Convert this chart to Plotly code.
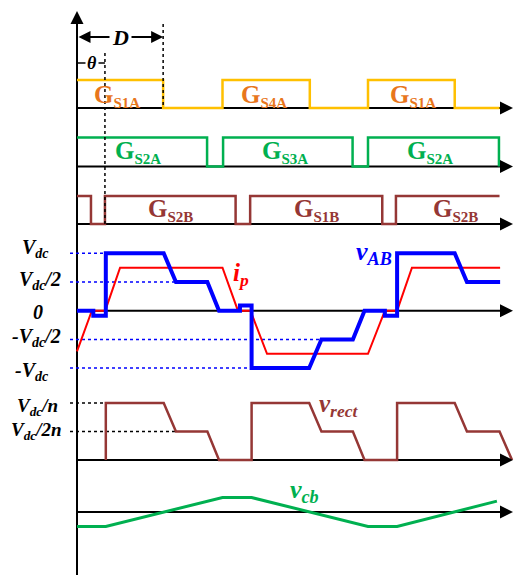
import plotly.graph_objects as go

# ---------------- data (time in switching periods T) ----------------
gs1a_t = [0, 0.296, 0.296, 0.5, 0.5, 0.8, 0.8, 1.0, 1.0, 1.298, 1.298, 1.452]
gs1a_v = [1, 1, 0, 0, 1, 1, 0, 0, 1, 1, 0, 0]

gs2a_t = [0, 0.447, 0.447, 0.502, 0.502, 0.947, 0.947, 1.0, 1.0, 1.45, 1.45]
gs2a_v = [1, 1, 0, 0, 1, 1, 0, 0, 1, 1, 0]

gs2b_t = [0, 0.048, 0.048, 0.096, 0.096, 0.545, 0.545, 0.595, 0.595, 1.049, 1.049, 1.096, 1.096, 1.452]
gs2b_v = [1, 1, 0, 0, 1, 1, 0, 0, 1, 1, 0, 0, 1, 1]

vab_t = [0, 0.056, 0.056, 0.099, 0.099, 0.298, 0.34, 0.448, 0.488, 0.56, 0.56, 0.6, 0.6,
         0.798, 0.84, 0.948, 0.988, 1.058, 1.058, 1.1, 1.1, 1.298, 1.34, 1.454]
vab_v = [0, 0, -0.09, -0.09, 1, 1, 0.5, 0.5, 0, 0, 0.09, 0.09, -1,
         -1, -0.5, -0.5, 0, 0, -0.09, -0.09, 1, 1, 0.5, 0.5]

ip_t = [0, 0.051, 0.097, 0.148, 0.5, 0.553, 0.596, 0.653, 1.0, 1.058, 1.1, 1.151, 1.454]
ip_v = [-0.71, 0, 0, 0.75, 0.75, 0, 0, -0.75, -0.75, 0, 0, 0.75, 0.75]

vrect_t = [0.099, 0.099, 0.298, 0.34, 0.448, 0.488, 0.6, 0.6, 0.798, 0.84, 0.948, 0.988,
           1.1, 1.1, 1.298, 1.34, 1.452, 1.495]
vrect_v = [0, 1, 1, 0.5, 0.5, 0, 0, 1, 1, 0.5, 0.5, 0, 0, 1, 1, 0.5, 0.5, 0]

vcb_t = [0, 0.099, 0.5, 0.6, 1.0, 1.1, 1.443]
vcb_v = [-1, -1, 1, 1, -1, -1, 0.75]

D_val = 0.296
theta_val = 0.096

vab_levels = [1, 0.5, -0.5, -1]
vab_level_end = [0.099, 0.34, 0.84, 0.6]
vab_labels = ["<b><i>V<sub>dc</sub></i></b>", "<b><i>V<sub>dc</sub>/2</i></b>",
              "<b><i>0</i></b>", "<b><i>-V<sub>dc</sub>/2</i></b>", "<b><i>-V<sub>dc</sub></i></b>"]
vrect_levels = [1, 0.5]
vrect_level_end = [0.099, 0.34]
vrect_labels = ["<b><i>V<sub>dc</sub>/n</i></b>", "<b><i>V<sub>dc</sub>/2n</i></b>"]

gate_labels = [["S1A", "S4A", "S1A"], ["S2A", "S3A", "S2A"], ["S2B", "S1B", "S2B"]]

# ---------------- layout constants ----------------
W, H = 517, 575
X0, SX = 77, 291           # pixel of t=0, pixels per period
T_TIP = (513 - X0) / SX

# rows: (axis id, baseline pixel, pixels per unit)
rows = {
    "g1": ("y", 108, 28),
    "g2": ("y2", 166.5, 29),
    "g3": ("y3", 224, 28),
    "vab": ("y4", 310.7, 57.4),
    "vr": ("y5", 460, 57),
    "vcb": ("y6", 512, 14.5),
}

def rv(row, py):
    _, b, s = rows[row]
    return (b - py) / s

def tx(px):
    return (px - X0) / SX

ORANGE = "#FFC000"
ORANGE_T = "#E8761C"
GREEN = "#00B050"
BROWN = "#953735"
BLUE = "#0000FF"
RED = "#FF0000"
FONT = "Liberation Serif"

fig = go.Figure()

def add(t, v, row, color, width):
    fig.add_trace(go.Scatter(x=t, y=v, mode="lines", yaxis=rows[row][0],
                             line=dict(color=color, width=width), hoverinfo="skip",
                             showlegend=False))

add(gs1a_t, gs1a_v, "g1", ORANGE, 2.5)
add(gs2a_t, gs2a_v, "g2", GREEN, 2.5)
add(gs2b_t, gs2b_v, "g3", BROWN, 2.5)
add(ip_t, ip_v, "vab", RED, 2)
add(vab_t, vab_v, "vab", BLUE, 4)
add(vrect_t, vrect_v, "vr", BROWN, 2.5)
add(vcb_t, vcb_v, "vcb", GREEN, 3)

shapes = []
annotations = []

# baselines with arrowheads
for key, (ax_id, b, s) in rows.items():
    shapes.append(dict(type="line", xref="x", yref=ax_id, x0=0, x1=T_TIP - 0.02, y0=0, y1=0,
                       line=dict(color="black", width=2), layer="below"))
    annotations.append(dict(x=T_TIP, y=0, xref="x", yref=ax_id, ax=-14, ay=0, text="",
                            showarrow=True, arrowhead=2, arrowsize=1.3, arrowwidth=2,
                            arrowcolor="black"))

# vertical axis
shapes.append(dict(type="line", xref="x", yref="paper", x0=0, x1=0, y0=0, y1=1 - 16 / H,
                   line=dict(color="black", width=2), layer="below"))
annotations.append(dict(x=0, y=1 - 11 / H, xref="x", yref="paper", ax=0, ay=14, text="",
                        showarrow=True, arrowhead=2, arrowsize=1.3, arrowwidth=2,
                        arrowcolor="black"))

# D and theta markers
shapes.append(dict(type="line", xref="x", yref="y", x0=D_val, x1=D_val,
                   y0=rv("g1", 24), y1=0, line=dict(color="black", width=1.5, dash="dot")))
shapes.append(dict(type="line", xref="x", yref="y3", x0=theta_val, x1=theta_val,
                   y0=rv("g3", 53), y1=0, line=dict(color="black", width=1.5, dash="dot")))
annotations.append(dict(x=D_val, y=rv("g1", 37), xref="x", yref="y", ax=0, ay=rv("g1", 37),
                        axref="x", ayref="y", text="", showarrow=True, arrowside="end+start",
                        arrowhead=2, startarrowhead=2, arrowsize=1.2, startarrowsize=1.2,
                        arrowwidth=2, arrowcolor="black"))
annotations.append(dict(x=D_val / 2, y=rv("g1", 37), xref="x", yref="y", text="<b><i>D</i></b>",
                        showarrow=False, bgcolor="white", borderpad=2,
                        font=dict(family=FONT, size=22, color="black")))
shapes.append(dict(type="line", xref="x", yref="y", x0=0, x1=theta_val,
                   y0=rv("g1", 63), y1=rv("g1", 63), line=dict(color="black", width=1.5)))
annotations.append(dict(x=theta_val / 2 + 0.003, y=rv("g1", 63), xref="x", yref="y",
                        text="<b><i>θ</i></b>", showarrow=False, bgcolor="white", borderpad=1,
                        font=dict(family=FONT, size=18, color="black")))

# level guide lines
for lv, te in zip(vab_levels, vab_level_end):
    shapes.append(dict(type="line", xref="x", yref="y4", x0=tx(70), x1=te, y0=lv, y1=lv,
                       line=dict(color=BLUE, width=1.5, dash="dot"), layer="below"))
for lv, te in zip(vrect_levels, vrect_level_end):
    shapes.append(dict(type="line", xref="x", yref="y5", x0=tx(70), x1=te, y0=lv, y1=lv,
                       line=dict(color="black", width=1.5, dash="dot"), layer="below"))

def txt(px, py, text, color, size):
    annotations.append(dict(x=px / W, y=1 - py / H, xref="paper", yref="paper", text=text,
                            showarrow=False, xanchor="center", yanchor="middle",
                            font=dict(family=FONT, size=size, color=color)))

# y labels
for (px, py), lab in zip([(35, 248), (40, 280), (38, 312), (36, 337), (32, 371)], vab_labels):
    txt(px, py, lab, "black", 20)
for (px, py), lab in zip([(37, 407), (36, 431)], vrect_labels):
    txt(px, py, lab, "black", 19)

# gate labels
gate_pos = [
    [(117, 96), (264, 96), (413, 96)],
    [(138, 152), (285, 152), (430, 152)],
    [(170, 210), (316, 210), (455, 210)],
]
gate_cols = [ORANGE_T, GREEN, BROWN]
for labs, poss, col in zip(gate_labels, gate_pos, gate_cols):
    for lab, (px, py) in zip(labs, poss):
        txt(px, py, "<b>G<sub><span style='font-size:15px'>%s</span></sub></b>" % lab, col, 25)

# signal labels
txt(241, 274, "<b><i>i<sub>p</sub></i></b>", RED, 25)
txt(374, 253, "<b><i>v<sub>AB</sub></i></b>", BLUE, 26)
txt(338, 405, "<b><i>v<sub>rect</sub></i></b>", BROWN, 25)
txt(304, 491, "<b><i>v<sub>cb</sub></i></b>", GREEN, 26)

layout_axes = {}
for i, (key, (ax_id, b, s)) in enumerate(rows.items()):
    name = "yaxis" if ax_id == "y" else "yaxis" + ax_id[1:]
    d = dict(range=[(b - H) / s, b / s], visible=False, fixedrange=True)
    if ax_id != "y":
        d["overlaying"] = "y"
    layout_axes[name] = d

fig.update_layout(
    width=W, height=H, autosize=False,
    margin=dict(l=0, r=0, t=0, b=0),
    paper_bgcolor="white", plot_bgcolor="white",
    xaxis=dict(range=[-X0 / SX, (W - X0) / SX], visible=False, fixedrange=True),
    shapes=shapes, annotations=annotations,
    **layout_axes,
)

fig.write_html("out.html", config={"displayModeBar": False},
               post_script="document.body.style.margin='0';")
